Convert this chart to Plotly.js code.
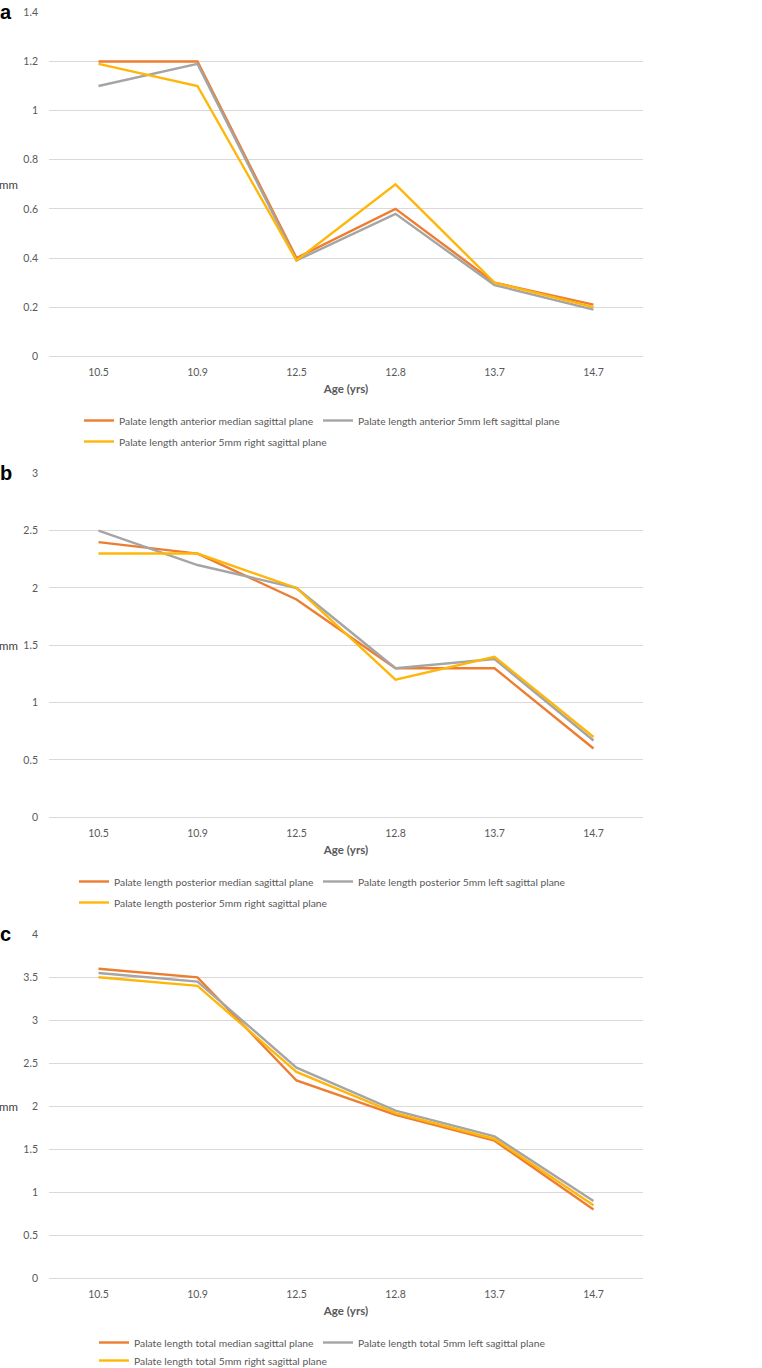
<!DOCTYPE html>
<html>
<head>
<meta charset="utf-8">
<script src="https://cdn.plot.ly/plotly-3.0.1.min.js"></script>
<style>html,body{margin:0;padding:0;background:#fff;}#chart{width:762px;height:1368px;}</style>
</head>
<body>
<div id="chart"></div>
<script>
const ages = ["10.5", "10.9", "12.5", "12.8", "13.7", "14.7"];

const anteriorMedian = [1.2, 1.2, 0.4, 0.6, 0.3, 0.21];
const anteriorLeft   = [1.1, 1.19, 0.39, 0.58, 0.29, 0.19];
const anteriorRight  = [1.19, 1.1, 0.39, 0.7, 0.3, 0.2];

const posteriorMedian = [2.4, 2.3, 1.9, 1.3, 1.3, 0.6];
const posteriorLeft   = [2.5, 2.2, 2.0, 1.3, 1.38, 0.67];
const posteriorRight  = [2.3, 2.3, 2.0, 1.2, 1.4, 0.7];

const totalMedian = [3.6, 3.5, 2.3, 1.9, 1.6, 0.8];
const totalLeft   = [3.55, 3.45, 2.45, 1.95, 1.65, 0.9];
const totalRight  = [3.5, 3.4, 2.4, 1.92, 1.62, 0.85];

const panelLetters = ["a", "b", "c"];
const seriesNames = {
  a: ["Palate length anterior median sagittal plane", "Palate length anterior 5mm left sagittal plane", "Palate length anterior 5mm right sagittal plane"],
  b: ["Palate length posterior median sagittal plane", "Palate length posterior 5mm left sagittal plane", "Palate length posterior 5mm right sagittal plane"],
  c: ["Palate length total median sagittal plane", "Palate length total 5mm left sagittal plane", "Palate length total 5mm right sagittal plane"]
};
const xTitle = "Age (yrs)";
const yTitle = "mm";

const colors = ["#ED7D31", "#A5A5A5", "#FFB60A"];
const FONT = "Lato, 'Open Sans', sans-serif";
const TXT = "#595959";

const W = 762, H = 1368;
const plotL = 49, plotR = 643;
const PW = plotR - plotL;
const panels = [
  {top: 12.3, bottom: 356.3, range: [0, 1.4], dtick: 0.2, data: [anteriorMedian, anteriorLeft, anteriorRight], names: seriesNames.a, legX: 84, row1: 406, row2: 427, entry: 239},
  {top: 473.3, bottom: 817.3, range: [0, 3], dtick: 0.5, data: [posteriorMedian, posteriorLeft, posteriorRight], names: seriesNames.b, legX: 79, row1: 867, row2: 888, entry: 244},
  {top: 934.3, bottom: 1278.3, range: [0, 4], dtick: 0.5, data: [totalMedian, totalLeft, totalRight], names: seriesNames.c, legX: 99, row1: 1328, row2: 1346, entry: 224}
];

const traces = [];
const layout = {
  width: W, height: H,
  margin: {l: plotL, r: W - plotR, t: 0, b: 0, autoexpand: false},
  paper_bgcolor: "#fff", plot_bgcolor: "#fff",
  font: {family: FONT, color: TXT},
  annotations: [],
  showlegend: true
};

function legendName(n) { return n === 1 ? "legend" : "legend" + n; }

panels.forEach((p, i) => {
  const sfx = i === 0 ? "" : String(i + 1);
  const xa = "x" + sfx, ya = "y" + sfx;
  const legRow1 = legendName(2 * i + 1);
  const legRow2 = legendName(2 * i + 2);
  p.data.forEach((vals, k) => {
    traces.push({
      type: "scatter", mode: "lines",
      x: ages, y: vals, name: p.names[k],
      xaxis: xa, yaxis: ya, legend: k < 2 ? legRow1 : legRow2,
      legendwidth: k === 0 ? p.entry - 45 : undefined,
      line: {color: colors[k], width: 2.4},
      hoverinfo: "skip"
    });
  });
  const d0 = 1 - p.bottom / H, d1 = 1 - p.top / H;
  layout["xaxis" + sfx] = {
    type: "category", anchor: ya, domain: [0, 1],
    range: [-0.5, 5.5], showgrid: false, zeroline: false,
    showline: true, linecolor: "#D9D9D9", linewidth: 1,
    ticks: "", tickfont: {family: FONT, size: 10.5, color: TXT},
    ticklabelstandoff: 6,
    title: {text: "<b>" + xTitle + "</b>", font: {family: FONT, size: 11.5, color: TXT}, standoff: 8},
    fixedrange: true, automargin: false
  };
  layout["yaxis" + sfx] = {
    anchor: xa, domain: [d0, d1],
    range: p.range, dtick: p.dtick, tick0: 0,
    showgrid: true, gridcolor: "#D9D9D9", gridwidth: 1,
    zeroline: false, showline: false, ticks: "",
    tickfont: {family: FONT, size: 10.5, color: TXT},
    ticklabelstandoff: 10,
    fixedrange: true, automargin: false
  };
  const legBase = {
    orientation: "h",
    xref: "paper", yref: "paper",
    x: (p.legX - 5 - plotL) / PW,
    xanchor: "left", yanchor: "top",
    font: {family: FONT, size: 10.3, color: TXT},
    bgcolor: "rgba(0,0,0,0)", borderwidth: 0,
    itemclick: false, itemdoubleclick: false,
    tracegroupgap: 0
  };
  layout[legRow1] = Object.assign({}, legBase, {y: 1 - p.row1 / H});
  layout[legRow2] = Object.assign({}, legBase, {y: 1 - p.row2 / H});
  layout.annotations.push({
    xref: "paper", yref: "paper", x: -plotL / PW, y: d1,
    xanchor: "left", yanchor: "middle", showarrow: false, xshift: -2,
    text: "<b>" + panelLetters[i] + "</b>",
    font: {family: "Liberation Sans, Arial, sans-serif", size: 20, color: "#000"}
  });
  layout.annotations.push({
    xref: "paper", yref: "paper", x: -plotL / PW, y: (d0 + d1) / 2,
    xanchor: "left", yanchor: "middle", showarrow: false, xshift: -3,
    text: yTitle,
    font: {family: FONT, size: 11.5, color: "#404040"}
  });
});

Plotly.newPlot("chart", traces, layout, {displayModeBar: false, staticPlot: true});
</script>
</body>
</html>
